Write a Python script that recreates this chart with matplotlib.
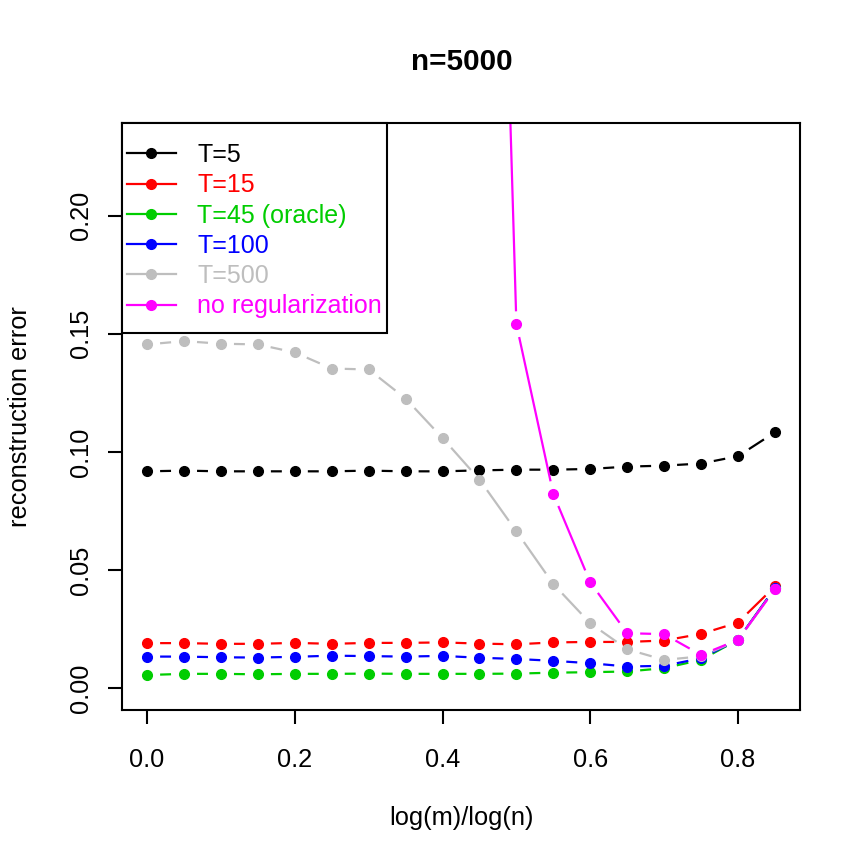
import numpy as np
import matplotlib
matplotlib.use("Agg")
import matplotlib.pyplot as plt
from matplotlib.lines import Line2D
from matplotlib.patches import Rectangle

plt.rcParams['font.family'] = ['Liberation Sans', 'DejaVu Sans']

x = [0.0, 0.05, 0.1, 0.15, 0.2, 0.25, 0.3, 0.35, 0.4, 0.45,
     0.5, 0.55, 0.6, 0.65, 0.7, 0.75, 0.8, 0.85]

t5 = [0.0918, 0.0921, 0.0918, 0.0918, 0.0918, 0.0918, 0.0921, 0.0918, 0.0918,
      0.0922, 0.0925, 0.0925, 0.0928, 0.0938, 0.0942, 0.0951, 0.0982, 0.1083]
t15 = [0.0191, 0.0191, 0.0188, 0.0188, 0.0192, 0.0188, 0.0192, 0.0192, 0.0194,
       0.0189, 0.0186, 0.0194, 0.0196, 0.0196, 0.0202, 0.0230, 0.0278, 0.0431]
t45 = [0.0056, 0.0061, 0.0061, 0.0059, 0.0061, 0.0061, 0.0062, 0.0061, 0.0061,
       0.0061, 0.0062, 0.0066, 0.0068, 0.0071, 0.0085, 0.0120, 0.0205, 0.0424]
t100 = [0.0134, 0.0134, 0.0131, 0.0130, 0.0133, 0.0138, 0.0136, 0.0134, 0.0137,
        0.0129, 0.0124, 0.0116, 0.0106, 0.0092, 0.0095, 0.0127, 0.0205, 0.0424]
t500 = [0.1455, 0.1469, 0.1458, 0.1455, 0.1421, 0.1353, 0.1349, 0.1226, 0.1059,
        0.0883, 0.0664, 0.0441, 0.0275, 0.0165, 0.0120, 0.0135, 0.0203, 0.0420]
noreg_x = [0.45, 0.5, 0.55, 0.6, 0.65, 0.7, 0.75, 0.8, 0.85]
noreg = [0.68, 0.1540, 0.0822, 0.0448, 0.0233, 0.0229, 0.0141, 0.0205, 0.0419]

labels = ["T=5", "T=15", "T=45 (oracle)", "T=100", "T=500", "no regularization"]
colors = ["black", "#FF0000", "#00CD00", "#0000FF", "#BEBEBE", "#FF00FF"]
series = [(x, t5), (x, t15), (x, t45), (x, t100), (x, t500), (noreg_x, noreg)]

FS = 18.3
W = 863

fig = plt.figure(figsize=(8.63, 8.63), dpi=100)
ax = fig.add_axes([122/W, 1-710/W, 678/W, 587/W])
ax.set_xlim(-0.034, 0.884)
ax.set_ylim(-0.0092, 0.2392)

GAP = 13.0  # px gap around points, like R type="b"


def gapped(xs, ys):
    pts = ax.transData.transform(np.column_stack([xs, ys]))
    out = []
    for p0, p1 in zip(pts[:-1], pts[1:]):
        d = p1 - p0
        L = np.hypot(*d)
        if L <= 2 * GAP:
            continue
        u = d / L
        out.append(p0 + u * GAP)
        out.append(p1 - u * GAP)
        out.append([np.nan, np.nan])
    out = np.array(out)
    back = ax.transData.inverted().transform(np.nan_to_num(out, nan=0.0))
    back[np.isnan(out)] = np.nan
    return back[:, 0], back[:, 1]


for (xs, ys), c in zip(series, colors):
    gx, gy = gapped(xs, ys)
    ax.plot(gx, gy, color=c, lw=1.6, solid_capstyle='butt')
    ax.plot(xs, ys, 'o', color=c, ms=7, mec=c)

ax.set_xticks([0.0, 0.2, 0.4, 0.6, 0.8])
ax.set_xticklabels(["0.0", "0.2", "0.4", "0.6", "0.8"])
ax.set_yticks([0.0, 0.05, 0.1, 0.15, 0.2])
ax.set_yticklabels(["0.00", "0.05", "0.10", "0.15", "0.20"], rotation=90, va='center')
ax.tick_params(direction='out', length=10, width=1.5, labelsize=FS)
ax.tick_params(axis='x', pad=17)
ax.tick_params(axis='y', pad=11)
for s in ax.spines.values():
    s.set_linewidth(1.5)

ax.set_xlabel("log(m)/log(n)", fontsize=FS)
ax.xaxis.set_label_coords(0.5, -0.163)
ax.set_ylabel("reconstruction error", fontsize=FS)
ax.yaxis.set_label_coords(-0.133, 0.5)
fig.text(462/W, 1-62/W, "n=5000", fontsize=21.3, fontweight='bold', ha='center', va='center')

# legend frame like R's legend box
ax.add_patch(Rectangle((0, (710-333)/587), 265/678, 1-(710-333)/587, transform=ax.transAxes,
                       facecolor='white', edgecolor='black', lw=1.5, zorder=4.5, clip_on=False))
handles = [Line2D([0], [0], color=c, lw=1.6, marker='o', ms=7) for c in colors]
leg = ax.legend(handles, labels, loc='upper left', bbox_to_anchor=(127/W, 1-143/W),
                bbox_transform=fig.transFigure, borderaxespad=0, frameon=False,
                fontsize=18, handlelength=1.95, handletextpad=0.85, labelspacing=0.25,
                borderpad=0, labelcolor=colors)

fig.savefig("out.png", dpi=100)
